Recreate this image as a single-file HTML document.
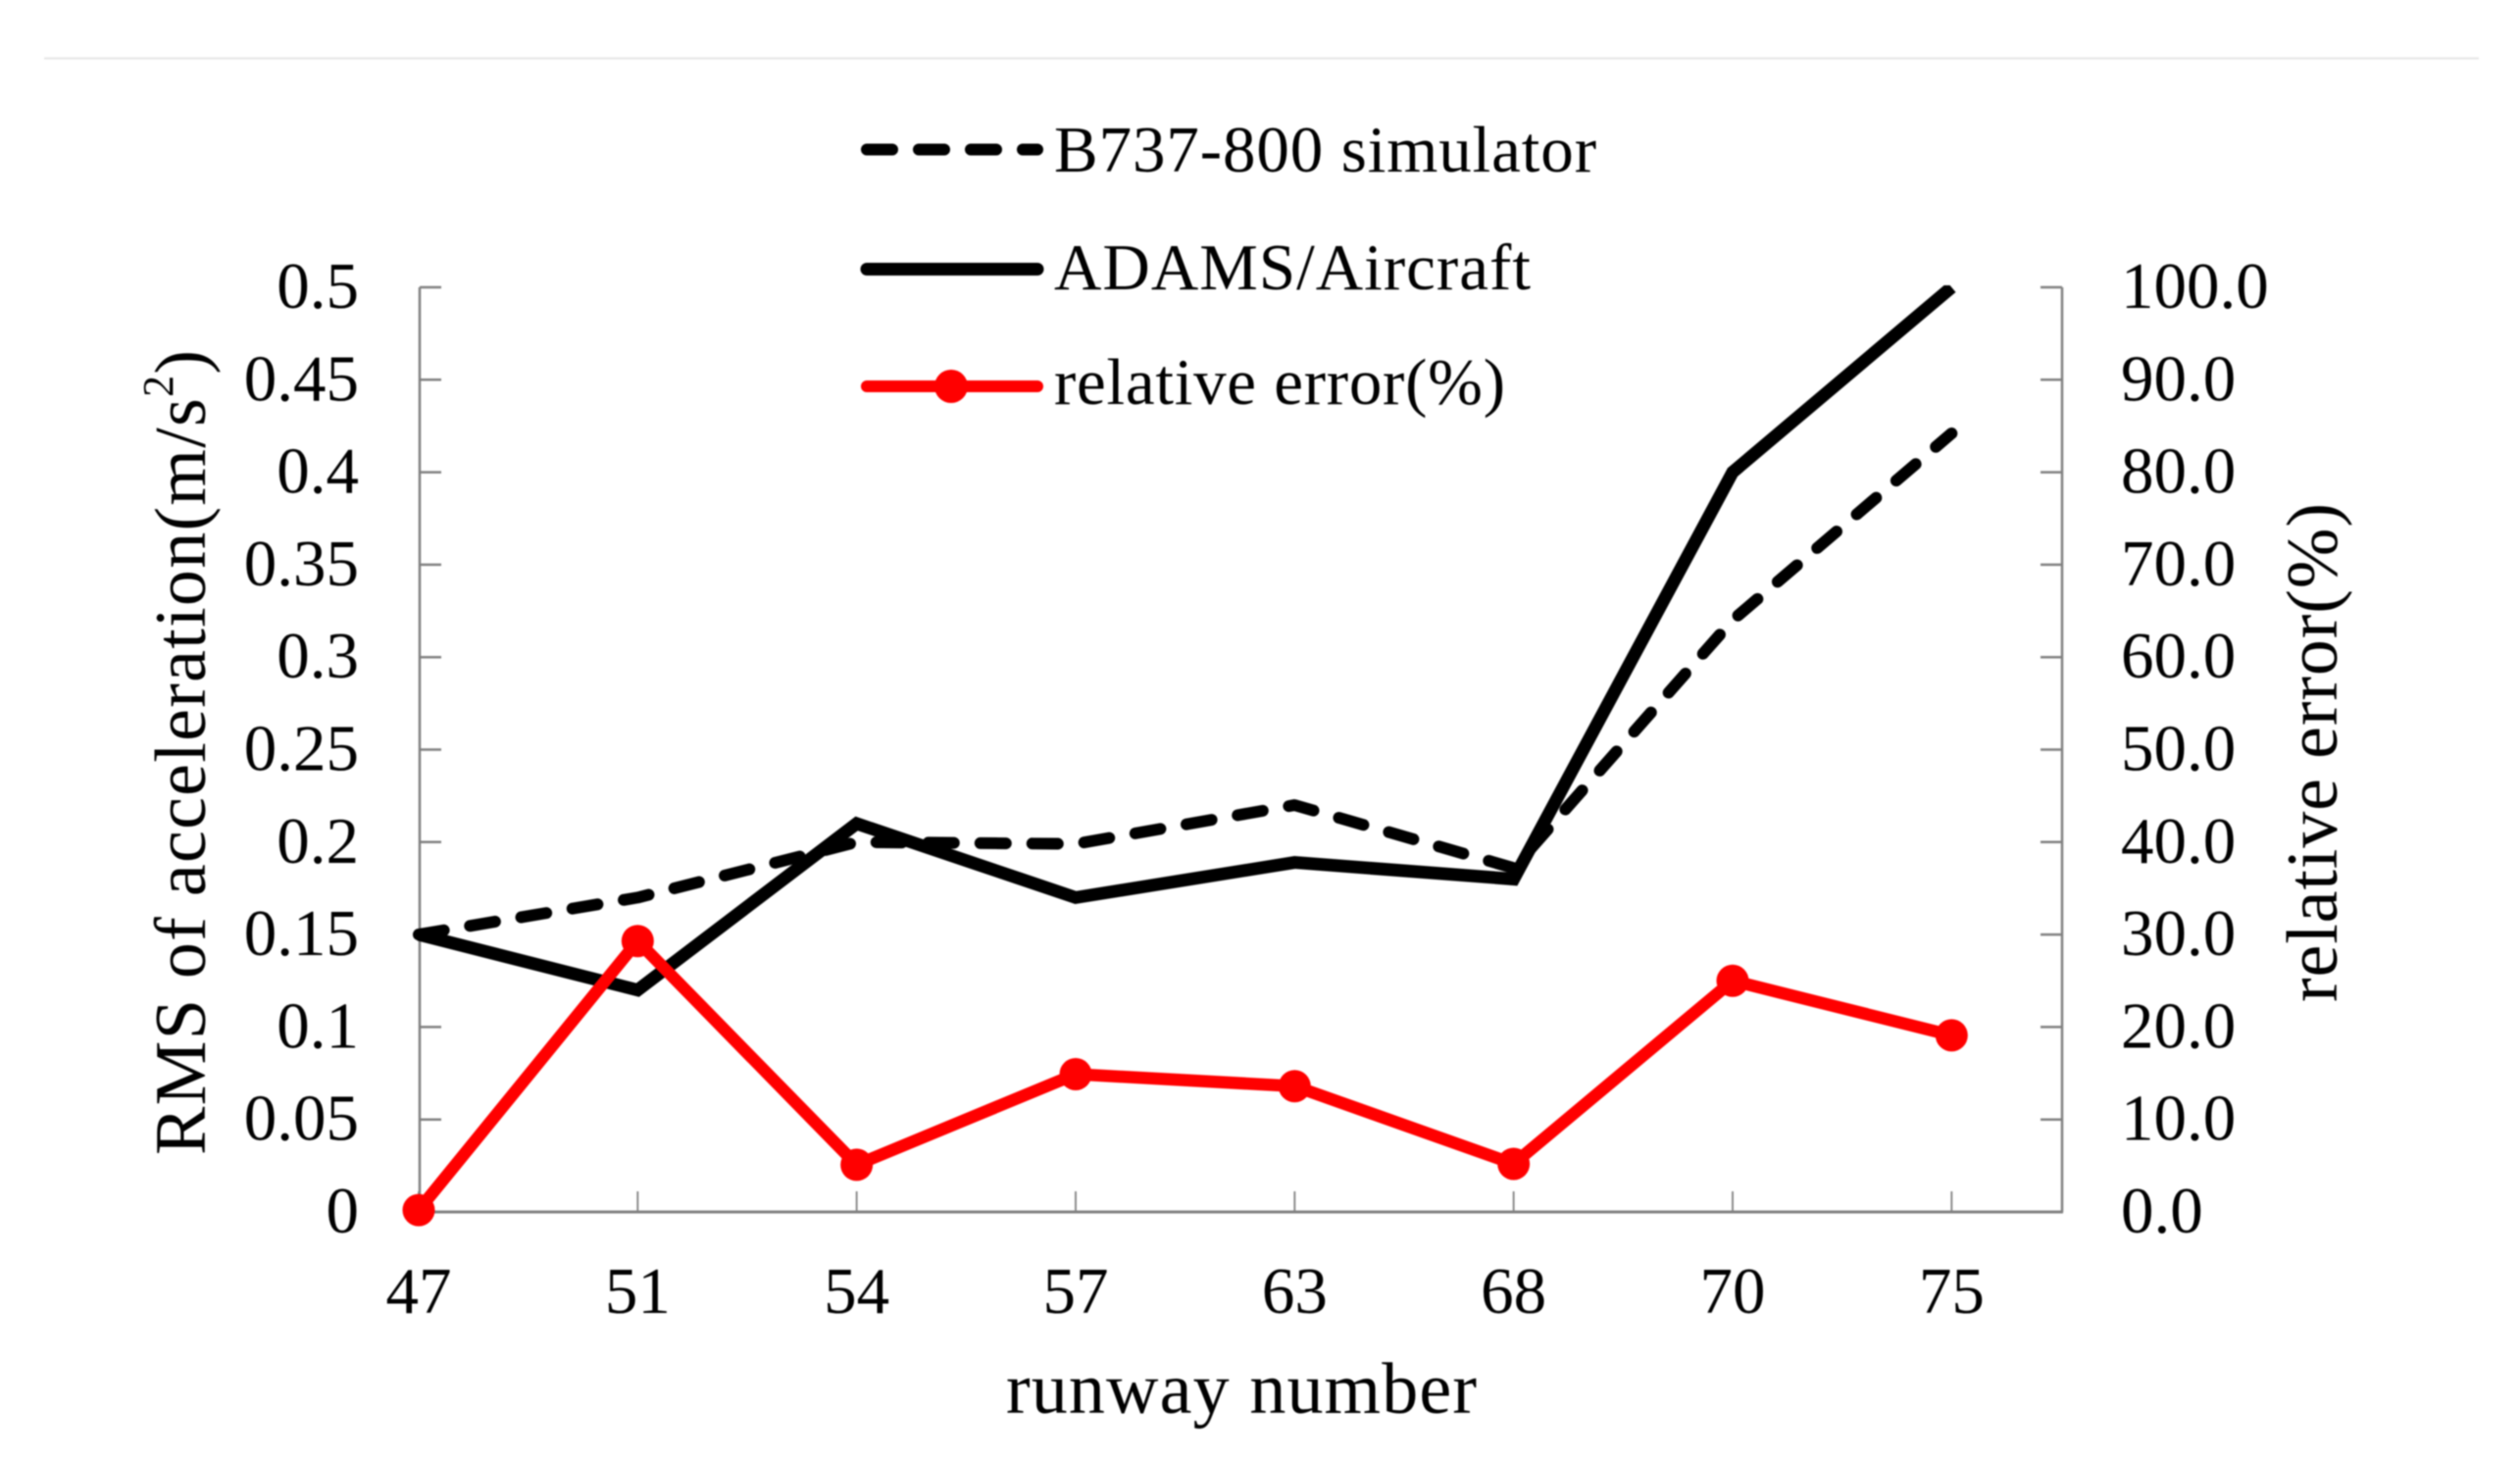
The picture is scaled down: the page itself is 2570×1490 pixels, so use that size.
<!DOCTYPE html>
<html lang="en">
<head>
<meta charset="utf-8">
<title>RMS of acceleration by runway number</title>
<style>
html,body{margin:0;padding:0;background:#fff;width:2570px;height:1490px;overflow:hidden}
#chart{display:block;filter:blur(0.7px)}
text{font-family:"Liberation Serif","Times New Roman",serif;fill:#000}
</style>
</head>
<body>
<svg id="chart" xmlns="http://www.w3.org/2000/svg" width="2570" height="1490" viewBox="0 0 2570 1490">
  <rect x="0" y="0" width="2570" height="1490" fill="#fff"/>
  <line x1="45" y1="59.5" x2="2528" y2="59.5" stroke="#e6e6e6" stroke-width="2"/>
  <defs>
    <clipPath id="plot-clip"><rect x="400" y="291" width="1720" height="970"/></clipPath>
  </defs>
  <g id="axes"></g>
  <g id="series"></g>

  <text transform="translate(209,1178) rotate(-90)" font-size="74" letter-spacing="1.27">RMS of acceleration(m/s<tspan font-size="44" dy="-33">2</tspan><tspan dy="33">)</tspan></text>
  <text transform="translate(2383,1022) rotate(-90)" font-size="74" textLength="509">relative error(%)</text>
  <text x="1026" y="1441" font-size="74" textLength="480">runway number</text>

  <g id="legend">
    <g>
      <line x1="884" y1="152.5" x2="1058" y2="152.5" stroke="#000" stroke-width="12" stroke-linecap="round" stroke-dasharray="26 27"/>
      <text x="1075" y="175" font-size="67" textLength="553">B737-800 simulator</text>
    </g>
    <g>
      <line x1="884" y1="274.5" x2="1058" y2="274.5" stroke="#000" stroke-width="13" stroke-linecap="round"/>
      <text x="1075" y="295" font-size="67" textLength="486">ADAMS/Aircraft</text>
    </g>
    <g>
      <line x1="884" y1="394" x2="1058" y2="394" stroke="#f00" stroke-width="12" stroke-linecap="round"/>
      <circle cx="970" cy="394" r="17" fill="#f00"/>
      <text x="1075" y="412" font-size="67" textLength="460">relative error(%)</text>
    </g>
  </g>
</svg>
<script>
const categories = ["47", "51", "54", "57", "63", "68", "70", "75"];
const simulatorValues = [0.15, 0.17, 0.2, 0.199, 0.22, 0.186, 0.32, 0.421];
const adamsValues = [0.15, 0.12, 0.21, 0.17, 0.189, 0.18, 0.4, 0.5];
const relativeErrorValues = [0.2, 29.3, 5.1, 14.9, 13.6, 5.2, 25, 19.1];
const leftTickLabels = ["0", "0.05", "0.1", "0.15", "0.2", "0.25", "0.3", "0.35", "0.4", "0.45", "0.5"];
const rightTickLabels = ["0.0", "10.0", "20.0", "30.0", "40.0", "50.0", "60.0", "70.0", "80.0", "90.0", "100.0"];

const NS = "http://www.w3.org/2000/svg";
const plot = { left: 428, right: 2103, top: 293, bottom: 1236 };
const xStep = (plot.right - plot.left) / (categories.length - 0.5);
const leftMax = parseFloat(leftTickLabels[leftTickLabels.length - 1]);
const rightMax = parseFloat(rightTickLabels[rightTickLabels.length - 1]);

function xScale(i) { return plot.left + i * xStep; }
function yLeft(v) { return plot.bottom - (v / leftMax) * (plot.bottom - plot.top); }
function yRight(v) { return plot.bottom - (v / rightMax) * (plot.bottom - plot.top); }

function make(tag, attrs, parent) {
  const el = document.createElementNS(NS, tag);
  for (const k in attrs) el.setAttribute(k, attrs[k]);
  parent.appendChild(el);
  return el;
}

const axes = document.getElementById("axes");
const seriesGroup = document.getElementById("series");
const axisColor = "#808080";

const leftAxis = make("line", { x1: plot.left, y1: plot.top, x2: plot.left, y2: plot.bottom, stroke: axisColor, "stroke-width": 2.5 }, axes);


const rightAxis = make("line", { x1: plot.right, y1: plot.top, x2: plot.right, y2: plot.bottom, stroke: axisColor, "stroke-width": 2.5 }, axes);


const bottomAxis = make("line", { x1: plot.left, y1: plot.bottom, x2: plot.right + 1, y2: plot.bottom, stroke: axisColor, "stroke-width": 3 }, axes);



leftTickLabels.forEach(function (label) {
  const y = yLeft(parseFloat(label));
  const tick = make("line", { x1: plot.left, y1: y, x2: plot.left + 22, y2: y, stroke: axisColor, "stroke-width": 2.5 }, axes);
  
  
  const text = make("text", { x: 366, y: y + 21, "font-size": 67, "text-anchor": "end" }, axes);
  
  
  text.textContent = label;
});

rightTickLabels.forEach(function (label) {
  const y = yRight(parseFloat(label));
  const tick = make("line", { x1: plot.right - 22, y1: y, x2: plot.right, y2: y, stroke: axisColor, "stroke-width": 2.5 }, axes);
  
  
  const text = make("text", { x: 2163, y: y + 21, "font-size": 67 }, axes);
  
  
  text.textContent = label;
});

categories.forEach(function (label, i) {
  const x = xScale(i) - 1;
  const tick = make("line", { x1: x, y1: plot.bottom - 21, x2: x, y2: plot.bottom, stroke: axisColor, "stroke-width": 1.8 }, axes);
  
  
  const text = make("text", { x: x, y: 1339, "font-size": 67, "text-anchor": "middle" }, axes);
  
  
  text.textContent = label;
});

function pointsFor(values, yFn) {
  return values.map(function (v, i) { return (xScale(i) - 1) + "," + yFn(v); }).join(" ");
}

const simulatorLine = make("polyline", { points: pointsFor(simulatorValues, yLeft), fill: "none", stroke: "#000", "stroke-width": 12, "stroke-linecap": "round", "stroke-linejoin": "round", "stroke-dasharray": "26 27" }, seriesGroup);



const adamsLine = make("polyline", { points: pointsFor(adamsValues, yLeft), fill: "none", stroke: "#000", "stroke-width": 13, "stroke-linecap": "butt", "stroke-linejoin": "miter", "clip-path": "url(#plot-clip)" }, seriesGroup);



const errorLine = make("polyline", { points: pointsFor(relativeErrorValues, yRight), fill: "none", stroke: "#f00", "stroke-width": 12.5, "stroke-linejoin": "round" }, seriesGroup);



relativeErrorValues.forEach(function (v, i) {
  const dot = make("circle", { cx: xScale(i) - 1, cy: yRight(v), r: 16.5, fill: "#f00" }, seriesGroup);
  
  
});
</script>
</body>
</html>
